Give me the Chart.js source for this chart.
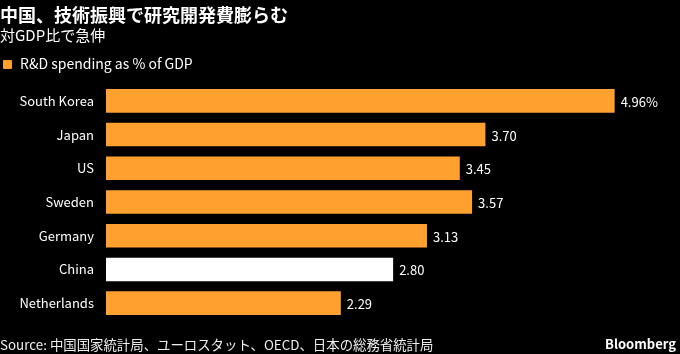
<!DOCTYPE html>
<html><head><meta charset="utf-8">
<script src="https://cdn.jsdelivr.net/npm/chart.js@4"></script>
<style>
html,body{margin:0;padding:0;background:#000;}
#wrap{position:relative;width:680px;height:354px;background:#000;overflow:hidden;font-family:"Noto Sans CJK JP","Noto Sans",sans-serif;color:#fff;}
#c{position:absolute;left:0;top:0;}
.t{position:absolute;white-space:nowrap;}
#title{left:0;top:1px;font-size:18px;font-weight:bold;}
#sub{left:0;top:24px;font-size:15px;}
#leg{left:3px;top:53px;font-size:14px;}
#leg span.sw{display:inline-block;width:9px;height:9px;background:#ffa02f;border-radius:1px;margin-right:8px;vertical-align:0px;}
#src{left:0;top:334px;font-size:13.4px;color:#eee;}
#bb{right:4px;top:334px;font-size:13px;font-weight:bold;}
</style></head>
<body><div id="wrap">
<canvas id="c" width="680" height="354"></canvas>
<div class="t" id="title">中国、技術振興で研究開発費膨らむ</div>
<div class="t" id="sub">対GDP比で急伸</div>
<div class="t" id="leg"><span class="sw"></span>R&amp;D spending as % of GDP</div>
<div class="t" id="src">Source: 中国国家統計局、ユーロスタット、OECD、日本の総務省統計局</div>
<div class="t" id="bb">Bloomberg</div>
</div>
<script>
const categories = ["South Korea","Japan","US","Sweden","Germany","China","Netherlands"];
const values = [4.96, 3.70, 3.45, 3.57, 3.13, 2.80, 2.29];
const valueLabels = ["4.96%","3.70","3.45","3.57","3.13","2.80","2.29"];
const barColors = categories.map(c => c === "China" ? "#ffffff" : "#ffa02f");

const valuePlugin = {
  id: 'valueLabels',
  afterDatasetsDraw(chart) {
    const ctx = chart.ctx;
    const meta = chart.getDatasetMeta(0);
    ctx.save();
    ctx.font = '13px "Noto Sans CJK JP","Noto Sans",sans-serif';
    ctx.fillStyle = '#ffffff';
    ctx.textAlign = 'left';
    ctx.textBaseline = 'middle';
    meta.data.forEach((bar, i) => {
      ctx.fillText(valueLabels[i], bar.x + 6, bar.y + 1);
    });
    ctx.restore();
  }
};

new Chart(document.getElementById('c'), {
  type: 'bar',
  data: {
    labels: categories,
    datasets: [{ label: 'R&D spending as % of GDP', data: values, backgroundColor: barColors, borderWidth: 0,
      categoryPercentage: 1.0, barPercentage: 0.7 }]
  },
  options: {
    indexAxis: 'y',
    responsive: false,
    animation: false,
    devicePixelRatio: 1,
    layout: { padding: { top: 84, bottom: 34, left: 0, right: 10 } },
    plugins: { legend: { display: false }, tooltip: { enabled: false } },
    scales: {
      x: { display: false, min: 0, max: 5.5 },
      y: {
        grid: { display: false, drawTicks: false },
        border: { display: false },
        ticks: { color: '#ffffff', padding: 12, font: { size: 13, family: '"Noto Sans CJK JP","Noto Sans",sans-serif' } },
        afterFit(scale) { scale.width = 106; }
      }
    }
  },
  plugins: [valuePlugin]
});
</script>
</body></html>
